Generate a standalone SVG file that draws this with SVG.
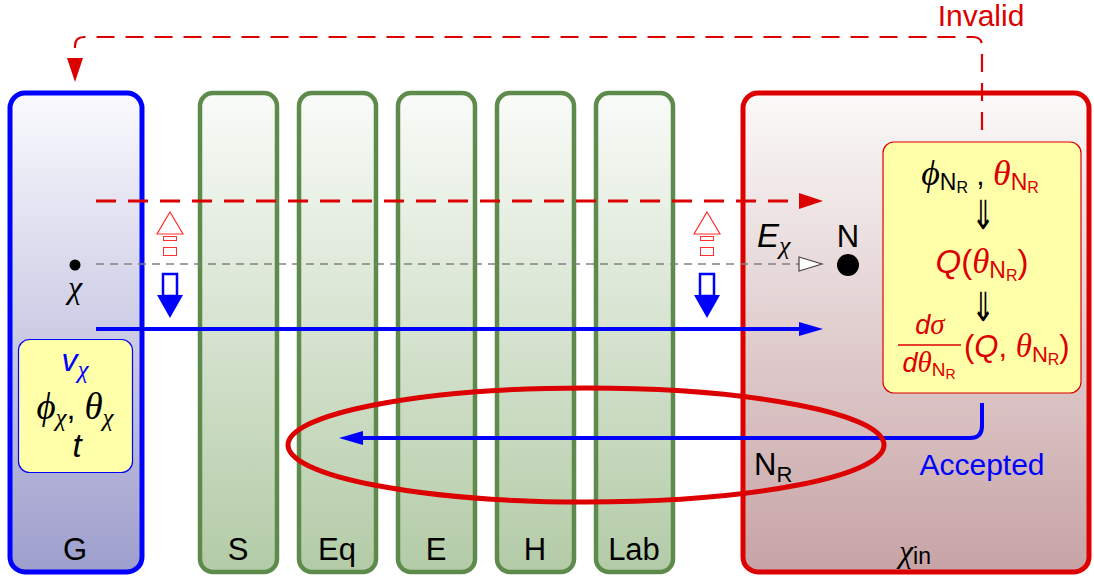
<svg xmlns="http://www.w3.org/2000/svg" width="1094" height="581" viewBox="0 0 1094 581">
<defs>
<linearGradient id="gG" x1="0" y1="0" x2="0" y2="1"><stop offset="0" stop-color="#fafafe"/><stop offset="1" stop-color="#9e9ecd"/></linearGradient>
<linearGradient id="gS" x1="0" y1="0" x2="0" y2="1"><stop offset="0" stop-color="#f9fbf8"/><stop offset="1" stop-color="#b3cba7"/></linearGradient>
<linearGradient id="gR" x1="0" y1="0" x2="0" y2="1"><stop offset="0" stop-color="#fbf9f9"/><stop offset="1" stop-color="#c7a3a5"/></linearGradient>
<marker id="hRed" markerUnits="userSpaceOnUse" viewBox="0 0 24 18" markerWidth="24" markerHeight="18" refX="0" refY="9" orient="auto"><path d="M0,1 L24,9 L0,17 Z" fill="#dd0000"/></marker>
<marker id="hBlue" markerUnits="userSpaceOnUse" viewBox="0 0 24 16" markerWidth="24" markerHeight="16" refX="0" refY="8" orient="auto"><path d="M0,1 L24,8 L0,15 Z" fill="#0000ff"/></marker>
<marker id="hOpen" markerUnits="userSpaceOnUse" viewBox="0 0 26 18" markerWidth="26" markerHeight="18" refX="1" refY="9" orient="auto"><path d="M1,2 L24,9 L1,16 Z" fill="#ffffff" stroke="#444" stroke-width="1.2"/></marker>
</defs>
<style>
.box{stroke-width:5}
.lbl{font-family:"Liberation Sans",Arial,sans-serif;font-size:31px;fill:#000;text-anchor:middle}
.gk{font-family:"Liberation Serif","DejaVu Serif",serif;font-style:italic}
.it{font-family:"Liberation Sans",Arial,sans-serif;font-style:italic}
.up{font-family:"Liberation Sans",Arial,sans-serif}
.red{fill:#dd0000}
.blue{fill:#0000ff}
.dar{font-family:"DejaVu Sans",sans-serif;font-size:40px;text-anchor:middle}
</style>

<g id="G">
<rect x="10" y="93" width="132" height="479" rx="15" fill="url(#gG)" stroke="#0000ff" class="box"/>
<text x="75" y="560" class="lbl">G</text>
</g>
<g id="S"><rect x="200" y="93" width="77" height="479" rx="13" fill="url(#gS)" stroke="#5e8a4c" stroke-width="4.5"/><text x="238" y="560" class="lbl">S</text></g>
<g id="Eq"><rect x="299" y="93" width="77" height="479" rx="13" fill="url(#gS)" stroke="#5e8a4c" stroke-width="4.5"/><text x="337" y="560" class="lbl">Eq</text></g>
<g id="E"><rect x="398" y="93" width="77" height="479" rx="13" fill="url(#gS)" stroke="#5e8a4c" stroke-width="4.5"/><text x="436" y="560" class="lbl">E</text></g>
<g id="H"><rect x="497" y="93" width="77" height="479" rx="13" fill="url(#gS)" stroke="#5e8a4c" stroke-width="4.5"/><text x="535" y="560" class="lbl">H</text></g>
<g id="Lab"><rect x="596" y="93" width="77" height="479" rx="13" fill="url(#gS)" stroke="#5e8a4c" stroke-width="4.5"/><text x="634" y="560" class="lbl">Lab</text></g>
<g id="chi_in">
<rect x="743" y="93" width="346" height="479" rx="15" fill="url(#gR)" stroke="#dd0000" class="box"/>
<text x="915" y="562" text-anchor="middle"><tspan class="gk" font-size="32">χ</tspan><tspan class="up" font-size="23" dy="2">in</tspan></text>
</g>

<g id="source_params">
<rect x="18.5" y="339.5" width="114" height="133" rx="11" fill="#ffffaa" stroke="#0000ff" stroke-width="1.2"/>
<text x="75" y="371" text-anchor="middle" class="blue"><tspan class="it" font-size="32">v</tspan><tspan class="gk" font-size="25" dy="7">χ</tspan></text>
<text x="75" y="419" text-anchor="middle"><tspan class="gk" font-size="37">ϕ</tspan><tspan class="gk" font-size="25" dy="7">χ</tspan><tspan class="up" font-size="32" dy="-7">, </tspan><tspan class="gk" font-size="37">θ</tspan><tspan class="gk" font-size="25" dy="7">χ</tspan></text>
<text x="77" y="457" text-anchor="middle" class="it" font-size="33">t</text>
</g>

<g id="recoil_calc">
<rect x="883" y="142" width="198" height="251" rx="11" fill="#ffffaa" stroke="#dd0000" stroke-width="1.2"/>
<text x="980" y="185" text-anchor="middle"><tspan class="gk" font-size="36">ϕ</tspan><tspan class="up" font-size="23" dy="5">N</tspan><tspan class="up" font-size="16" dy="3">R</tspan><tspan class="up" font-size="30" dy="-8"> , </tspan><tspan class="gk red" font-size="36">θ</tspan><tspan class="up red" font-size="23" dy="5">N</tspan><tspan class="up red" font-size="16" dy="3">R</tspan></text>
<text class="dar" transform="translate(983,229) scale(0.7,1)">⇓</text>
<text x="982" y="273" text-anchor="middle" class="red"><tspan class="it" font-size="33">Q</tspan><tspan class="up" font-size="33">(</tspan><tspan class="gk" font-size="35">θ</tspan><tspan class="up" font-size="23" dy="5">N</tspan><tspan class="up" font-size="16" dy="3">R</tspan><tspan class="up" font-size="33" dy="-8">)</tspan></text>
<text class="dar" transform="translate(983,321) scale(0.7,1)">⇓</text>
<text x="930" y="334" text-anchor="middle" class="red"><tspan class="it" font-size="27">d</tspan><tspan class="gk" font-size="29">σ</tspan></text>
<line x1="898" y1="345" x2="961" y2="345" stroke="#dd0000" stroke-width="1.5"/>
<text x="929" y="372" text-anchor="middle" class="red"><tspan class="it" font-size="27">d</tspan><tspan class="gk" font-size="29">θ</tspan><tspan class="up" font-size="19" dy="4">N</tspan><tspan class="up" font-size="14" dy="3">R</tspan></text>
<text x="964" y="357" class="red"><tspan class="up" font-size="31">(</tspan><tspan class="it" font-size="31">Q</tspan><tspan class="up" font-size="31">, </tspan><tspan class="gk" font-size="33">θ</tspan><tspan class="up" font-size="22" dy="5">N</tspan><tspan class="up" font-size="16" dy="3">R</tspan><tspan class="up" font-size="31" dy="-8">)</tspan></text>
</g>

<g id="connectors">
<path d="M982,130 V46 Q982,37 973,37 H84 Q75,37 75,46 V58" fill="none" stroke="#dd0000" stroke-width="2.2" stroke-dasharray="18,11" marker-end="url(#hRed)"/>
<text x="981" y="26" text-anchor="middle" class="up red" font-size="30">Invalid</text>
<path d="M96,201 H799" fill="none" stroke="#dd0000" stroke-width="3" stroke-dasharray="20,12" marker-end="url(#hRed)"/>
<path d="M96,264 H799" fill="none" stroke="#808080" stroke-width="1.5" stroke-dasharray="8,6" marker-end="url(#hOpen)"/>
<path d="M96,329 H799" fill="none" stroke="#0000ff" stroke-width="4" marker-end="url(#hBlue)"/>
<path d="M982,403 V426 Q982,438 970,438 H363" fill="none" stroke="#0000ff" stroke-width="4" marker-end="url(#hBlue)"/>
<text x="982" y="475" text-anchor="middle" class="up blue" font-size="30">Accepted</text>
<ellipse cx="586" cy="445" rx="298" ry="57" fill="none" stroke="#dd0000" stroke-width="5"/>
<text x="754" y="475" font-size="31"><tspan class="up">N</tspan><tspan class="up" font-size="22" dy="7">R</tspan></text>

<g id="hollow_left">
<polygon points="170,212 183,234 157,234" fill="#ffffff" stroke="#ff3030" stroke-width="1.2"/>
<rect x="163.5" y="236.5" width="13" height="4" fill="none" stroke="#ff3030" stroke-width="1"/>
<rect x="163.5" y="247.5" width="13" height="8" fill="none" stroke="#ff3030" stroke-width="1"/>
<rect x="163" y="274" width="14" height="22" fill="#ffffff" stroke="#0000ff" stroke-width="2.5"/>
<polygon points="157,295 183,295 170,318" fill="#0000ff"/>
</g>
<g id="hollow_right">
<polygon points="707,212 720,234 694,234" fill="#ffffff" stroke="#ff3030" stroke-width="1.2"/>
<rect x="700.5" y="236.5" width="13" height="4" fill="none" stroke="#ff3030" stroke-width="1"/>
<rect x="700.5" y="247.5" width="13" height="8" fill="none" stroke="#ff3030" stroke-width="1"/>
<rect x="700" y="274" width="14" height="22" fill="#ffffff" stroke="#0000ff" stroke-width="2.5"/>
<polygon points="694,295 720,295 707,318" fill="#0000ff"/>
</g>
</g>

<g id="chi_point">
<circle cx="75" cy="265" r="5.5" fill="#000"/>
<text x="75" y="298" text-anchor="middle" class="gk" font-size="32">χ</text>
</g>
<g id="N">
<circle cx="848" cy="265" r="11" fill="#000"/>
<text x="848" y="247" text-anchor="middle" class="up" font-size="31">N</text>
<text x="757" y="247"><tspan class="it" font-size="33">E</tspan><tspan class="gk" font-size="26" dy="7">χ</tspan></text>
</g>
</svg>
